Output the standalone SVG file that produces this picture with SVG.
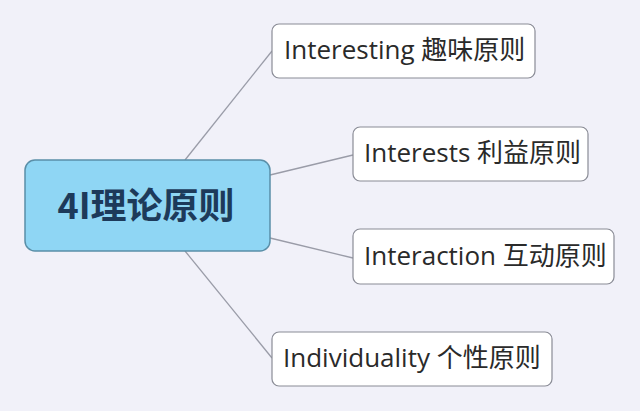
<svg xmlns="http://www.w3.org/2000/svg" width="640" height="411" viewBox="0 0 640 411">
<style>
.bg{fill:#f1f1f9}
.sub{fill:#ffffff;stroke:#8a8c96;stroke-width:1.2}
.main{fill:#8fd6f4;stroke:#5a8fa8;stroke-width:1.5}
.t{font-family:"Open Sans","Noto Sans","Noto Sans CJK SC",sans-serif;font-size:26px;fill:#2a2a2a}
.mt{font-family:"Noto Sans CJK SC","Noto Sans",sans-serif;font-size:36px;font-weight:bold;fill:#1d3a5a}
.c{fill:none;stroke:#9a9ca8;stroke-width:1.3}
</style>
<rect class="bg" x="0" y="0" width="640" height="411"/>
<g id="connectors">
<path class="c" d="M185,160 L272,51"/>
<path class="c" d="M270,175 L353,155"/>
<path class="c" d="M270,238 L353,258"/>
<path class="c" d="M185,251 L272,358"/>
</g>
<g id="center">
<rect class="main" x="25" y="160" width="245" height="91" rx="10"/>
<text class="mt" x="146" y="219" text-anchor="middle">4I理论原则</text>
</g>
<g id="n1">
<rect class="sub" x="272" y="24" width="263" height="54" rx="7"/>
<text class="t" x="284" y="59">Interesting 趣味原则</text>
</g>
<g id="n2">
<rect class="sub" x="353" y="127" width="235" height="54" rx="7"/>
<text class="t" x="364" y="162">Interests 利益原则</text>
</g>
<g id="n3">
<rect class="sub" x="353" y="229" width="261" height="55" rx="7"/>
<text class="t" x="364" y="265">Interaction 互动原则</text>
</g>
<g id="n4">
<rect class="sub" x="272" y="332" width="280" height="54" rx="7"/>
<text class="t" x="283" y="367">Individuality 个性原则</text>
</g>
</svg>
